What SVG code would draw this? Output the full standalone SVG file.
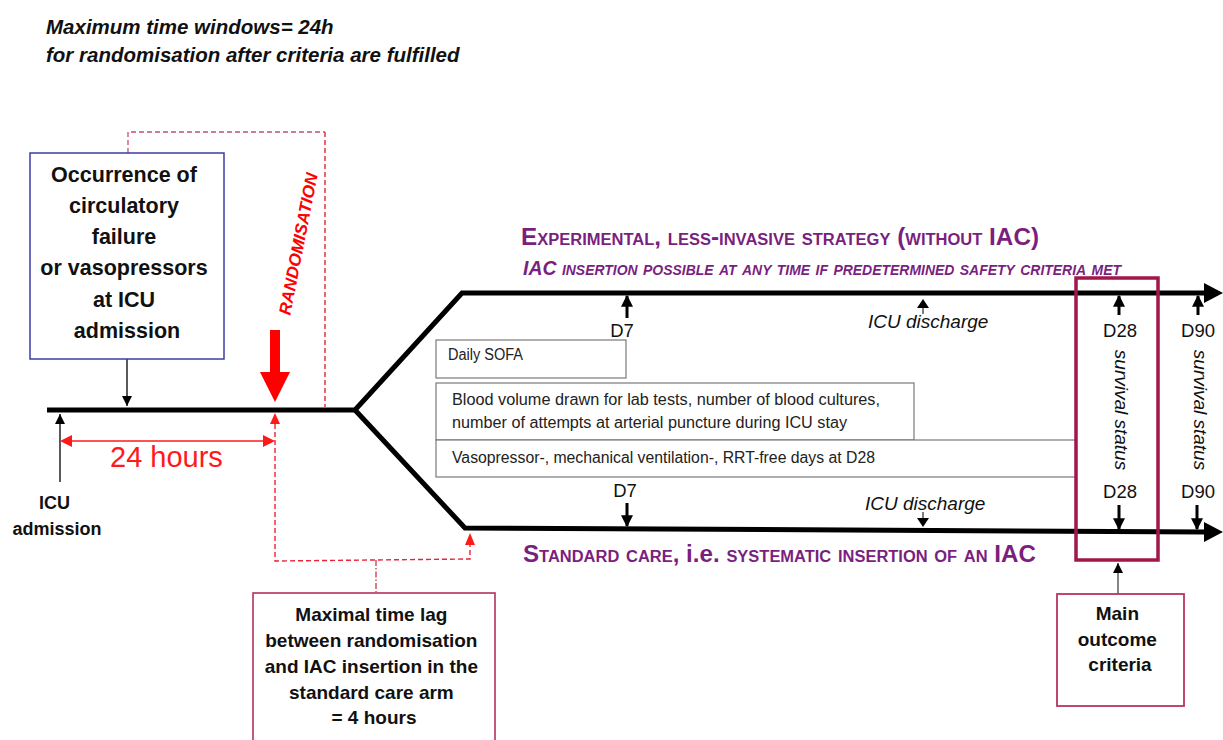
<svg xmlns="http://www.w3.org/2000/svg" width="1223" height="740" viewBox="0 0 1223 740">
<defs>
<style>
text{font-family:"Liberation Sans",Arial,sans-serif}
.hdr{font-size:20.5px;font-weight:bold;font-style:italic;fill:#111}
.bx{font-size:21.5px;font-weight:bold;fill:#111}
.bb{font-size:19px;font-weight:bold;fill:#111}
.sm{font-size:16px;fill:#222}
.dl{font-size:18.5px;fill:#111}
.it{font-size:19px;font-style:italic;fill:#111}
.pur{font-weight:bold;fill:#7b1f7f;font-variant:small-caps}
.tl{stroke:#000;stroke-width:5;fill:none;stroke-linejoin:miter}
.thin{stroke:#000;stroke-width:1.3;fill:none}
.da{stroke:#000;stroke-width:3;fill:none}
.gbox{fill:#fff;stroke:#7a7a7a;stroke-width:1.2}
.rdash{stroke:#e8233a;stroke-width:1.4;fill:none;stroke-dasharray:5,3}
</style>
<marker id="mk" viewBox="0 0 10 10" refX="10" refY="5" markerWidth="10" markerHeight="10" markerUnits="userSpaceOnUse" orient="auto"><path d="M0,0 L10,5 L0,10 z" fill="#000"/></marker>
<marker id="mkd" viewBox="0 0 10 10" refX="9" refY="5" markerWidth="12" markerHeight="12" markerUnits="userSpaceOnUse" orient="auto"><path d="M0,0 L10,5 L0,10 z" fill="#000"/></marker>
</defs>
<rect width="1223" height="740" fill="#fff"/>

<g id="header">
<text class="hdr" x="46" y="34">Maximum time windows= 24h</text>
<text class="hdr" x="46" y="62">for randomisation after criteria are fulfilled</text>
</g>

<g id="connectors">
<path class="tl" d="M47,410 L355,410 L462,293 L1207,293"/>
<path class="tl" d="M355,410 L465,528 L1207,532"/>
<polygon points="1223,293 1204,283 1204,303" fill="#000"/>
<polygon points="1223,532 1204,522 1204,542" fill="#000"/>
<line class="thin" x1="127" y1="359" x2="127" y2="406" marker-end="url(#mk)"/>
<line class="thin" x1="60" y1="482" x2="60" y2="414" marker-end="url(#mk)"/>
<path d="M128,153 L128,132 L325,132" fill="none" stroke="#c0506e" stroke-width="1.3" stroke-dasharray="5,3"/>
<path class="rdash" d="M325,132 L325,407"/>
<polygon points="270,330 280,330 280,372 290,372 275,402 260,372 270,372" fill="#ff0000"/>
<line x1="70" y1="441" x2="265" y2="441" stroke="#ff1a1a" stroke-width="1.6"/>
<polygon points="60,441 72,435 72,447" fill="#ff1a1a"/>
<polygon points="275,441 263,435 263,447" fill="#ff1a1a"/>
<path class="rdash" d="M275,424 L275,561 L470,559 L470,545"/>
<polygon points="275,413 270,424 280,424" fill="#ff1a1a"/>
<polygon points="470,533 465,545 475,545" fill="#ff1a1a"/>
<path d="M376,560 L376,593" fill="none" stroke="#d0405e" stroke-width="1.4" stroke-dasharray="6,2,1.5,2"/>
<line class="da" x1="627" y1="318" x2="627" y2="296" marker-end="url(#mkd)"/>
<line class="da" x1="1119" y1="315" x2="1119" y2="296" marker-end="url(#mkd)"/>
<line class="da" x1="1198" y1="315" x2="1198" y2="296" marker-end="url(#mkd)"/>
<line class="da" x1="627" y1="503" x2="627" y2="526" marker-end="url(#mkd)"/>
<line class="da" x1="1119" y1="505" x2="1119" y2="529" marker-end="url(#mkd)"/>
<line class="da" x1="1197" y1="505" x2="1197" y2="529" marker-end="url(#mkd)"/>
<polygon points="923,299 917,308 929,308" fill="#000"/>
<line x1="923" y1="308" x2="923" y2="314" stroke="#000" stroke-width="1"/>
<polygon points="923,527 917,518 929,518" fill="#000"/>
<line x1="923" y1="512" x2="923" y2="518" stroke="#000" stroke-width="1"/>
<line x1="1118" y1="594" x2="1118" y2="563" stroke="#444" stroke-width="1.3" marker-end="url(#mk)"/>
</g>

<g id="node-occurrence">
<rect x="30" y="153" width="194" height="206" fill="#fff" stroke="#3c3ca8" stroke-width="1.5"/>
<text class="bx" text-anchor="middle">
<tspan x="127" y="182">Occurrence of</tspan>
<tspan x="127" y="213">circulatory</tspan>
<tspan x="127" y="244">failure</tspan>
<tspan x="127" y="275">or vasopressors</tspan>
<tspan x="127" y="307">at ICU</tspan>
<tspan x="127" y="338">admission</tspan>
</text>
</g>

<g id="label-randomisation">
<text transform="translate(304,245) rotate(-79)" text-anchor="middle" font-size="17" font-weight="bold" font-style="italic" fill="#ff0000">RANDOMISATION</text>
</g>

<g id="label-24h">
<text x="110" y="467" font-size="29" fill="#ff1a1a">24 hours</text>
</g>

<g id="label-icu-admission">
<text text-anchor="middle" font-size="18" font-weight="bold" fill="#111">
<tspan x="57" y="509">ICU</tspan>
<tspan x="57" y="535">admission</tspan>
</text>
</g>

<g id="node-timelag">
<rect x="253" y="593" width="242" height="160" fill="#fff" stroke="#b3335b" stroke-width="1.6"/>
<text class="bb" text-anchor="middle">
<tspan x="374" y="621">Maximal time lag</tspan>
<tspan x="374" y="647">between randomisation</tspan>
<tspan x="374" y="673">and IAC insertion in the</tspan>
<tspan x="374" y="699">standard care arm</tspan>
<tspan x="374" y="724">= 4 hours</tspan>
</text>
</g>

<g id="label-experimental">
<text class="pur" x="521" y="245" font-size="23.5" textLength="518" lengthAdjust="spacingAndGlyphs">Experimental, less-invasive strategy (without IAC)</text>
<text class="pur" x="523" y="275" font-size="19.5" font-style="italic" textLength="598" lengthAdjust="spacingAndGlyphs">IAC insertion possible at any time if predetermined safety criteria met</text>
</g>

<g id="label-standard">
<text class="pur" x="523" y="562" font-size="23.5" textLength="513" lengthAdjust="spacingAndGlyphs">Standard care, <tspan style="font-variant:normal">i.e.</tspan> systematic insertion of an IAC</text>
</g>

<g id="node-daily-sofa">
<rect class="gbox" x="436" y="340" width="190" height="38"/>
<text class="sm" x="448" y="360" font-size="14.5" textLength="75" lengthAdjust="spacingAndGlyphs">Daily SOFA</text>
</g>

<g id="node-blood">
<rect class="gbox" x="436" y="383" width="478" height="57"/>
<text class="sm" x="452" y="405" textLength="428" lengthAdjust="spacingAndGlyphs">Blood volume drawn for lab tests, number of blood cultures,</text>
<text class="sm" x="452" y="428" textLength="395" lengthAdjust="spacingAndGlyphs">number of attempts at arterial puncture during ICU stay</text>
</g>

<g id="node-vaso">
<rect class="gbox" x="436" y="440" width="640" height="37"/>
<text class="sm" x="452" y="463" textLength="423" lengthAdjust="spacingAndGlyphs">Vasopressor-, mechanical ventilation-, RRT-free days at D28</text>
</g>

<g id="labels-days">
<text class="dl" x="622" y="337" text-anchor="middle">D7</text>
<text class="dl" x="625" y="497" text-anchor="middle">D7</text>
<text class="it" x="868" y="328">ICU discharge</text>
<text class="it" x="865" y="510">ICU discharge</text>
<text class="dl" x="1120" y="337" text-anchor="middle">D28</text>
<text class="dl" x="1198" y="337" text-anchor="middle">D90</text>
<text class="dl" x="1120" y="498" text-anchor="middle">D28</text>
<text class="dl" x="1198" y="498" text-anchor="middle">D90</text>
<text transform="translate(1115,410) rotate(90)" text-anchor="middle" font-size="19" font-style="italic" fill="#111">survival status</text>
<text transform="translate(1194,410) rotate(90)" text-anchor="middle" font-size="19" font-style="italic" fill="#111">survival status</text>
</g>

<g id="node-outcome-frame">
<rect x="1076" y="278" width="82" height="282" fill="none" stroke="#a0174a" stroke-width="3.5"/>
</g>

<g id="node-main-outcome">
<rect x="1057" y="594" width="127" height="112" fill="#fff" stroke="#b8365e" stroke-width="1.8"/>
<text class="bb" text-anchor="middle">
<tspan x="1120" y="620">Main</tspan>
<tspan x="1120" y="646">outcome</tspan>
<tspan x="1120" y="671">criteria</tspan>
</text>
</g>
</svg>
